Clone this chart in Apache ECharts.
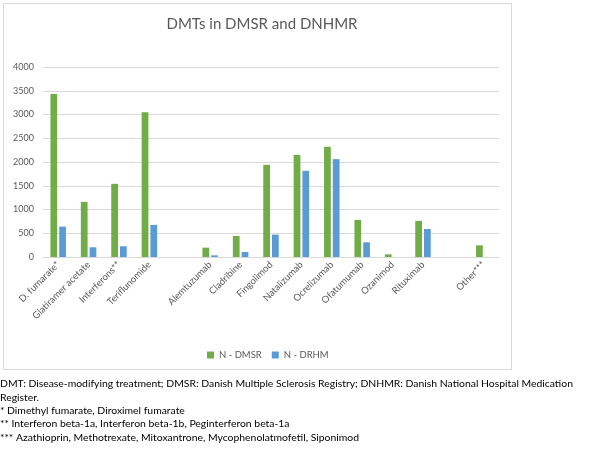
<!DOCTYPE html>
<html>
<head>
<meta charset="utf-8">
<script src="https://cdn.jsdelivr.net/npm/echarts@6/dist/echarts.min.js"></script>
<style>
  html, body { margin: 0; padding: 0; background: #fff; }
  #chart { width: 600px; height: 453px; }
</style>
</head>
<body>
<div id="chart"></div>
<script>
// categories (empty strings are the gaps in the original chart)
const categories = [
  "D. fumarate*", "Glatiramer acetate", "Interferons**", "Teriflunomide", "",
  "Alemtuzumab", "Cladribine", "Fingolimod", "Natalizumab", "Ocrelizumab",
  "Ofatumumab", "Ozanimod", "Rituximab", "", "Other***"
];
const dmsr = [3430, 1160, 1540, 3045, null, 197, 443, 1940, 2150, 2320, 780, 56, 760, null, 246];
const drhm = [640, 204, 225, 675, null, 35, 105, 471, 1815, 2060, 309, null, 590, null, null];
const seriesNames = ["N - DMSR", "N - DRHM"];
const footnotes = [
  "DMT: Disease-modifying treatment; DMSR: Danish Multiple Sclerosis Registry; DNHMR: Danish National Hospital Medication",
  "Register.",
  "* Dimethyl fumarate, Diroximel fumarate",
  "** Interferon beta-1a, Interferon beta-1b, Peginterferon beta-1a",
  "*** Azathioprin, Methotrexate, Mitoxantrone, Mycophenolatmofetil, Siponimod"
];

const chart = echarts.init(document.getElementById("chart"));
const font = "Lato, 'Open Sans', sans-serif";

let noteGraphics = footnotes.map(function(t, i) {
  return {
    type: "text",
    left: 0,
    top: 379 + i * 13.3,
    style: { text: t, fill: "#000", font: "10.4px " + font }
  };
});

let option = {
  backgroundColor: "#fff",
  title: {
    text: "DMTs in DMSR and DNHMR",
    left: 257,
    top: 12,
    textAlign: "center",
    textStyle: { color: "#595959", fontSize: 15, fontWeight: "normal", fontFamily: font }
  },
  legend: {
    data: seriesNames,
    left: 202,
    top: 345,
    itemWidth: 7,
    itemHeight: 7,
    itemGap: 10,
    icon: "rect",
    textStyle: { color: "#595959", fontSize: 9.5, fontFamily: font }
  },
  grid: { left: 43, right: 101, top: 67, bottom: 196 },
  xAxis: {
    type: "category",
    data: categories,
    axisTick: { show: false },
    axisLine: { lineStyle: { color: "#d9d9d9" } },
    axisLabel: {
      interval: 0,
      rotate: 45,
      margin: 6,
      color: "#595959",
      fontSize: 9.5,
      fontFamily: font
    }
  },
  yAxis: {
    type: "value",
    min: 0,
    max: 4000,
    interval: 500,
    axisLine: { show: false },
    axisTick: { show: false },
    splitLine: { lineStyle: { color: "#d9d9d9" } },
    axisLabel: {
      color: "#595959",
      fontSize: 9,
      margin: 9,
      fontFamily: font,
      formatter: function(v) { return String(v); }
    }
  },
  color: ["#70ad47", "#5b9bd5"],
  series: [
    { name: seriesNames[0], type: "bar", data: dmsr, barGap: "30%", barCategoryGap: "49%" },
    { name: seriesNames[1], type: "bar", data: drhm, barGap: "30%", barCategoryGap: "49%" }
  ],
  graphic: [
    {
      type: "rect",
      z: -1,
      shape: { x: 3.5, y: 3.5, width: 508, height: 366 },
      style: { fill: "none", stroke: "#d9d9d9", lineWidth: 1 }
    }
  ].concat(noteGraphics)
};
chart.setOption(option);
</script>
</body>
</html>
